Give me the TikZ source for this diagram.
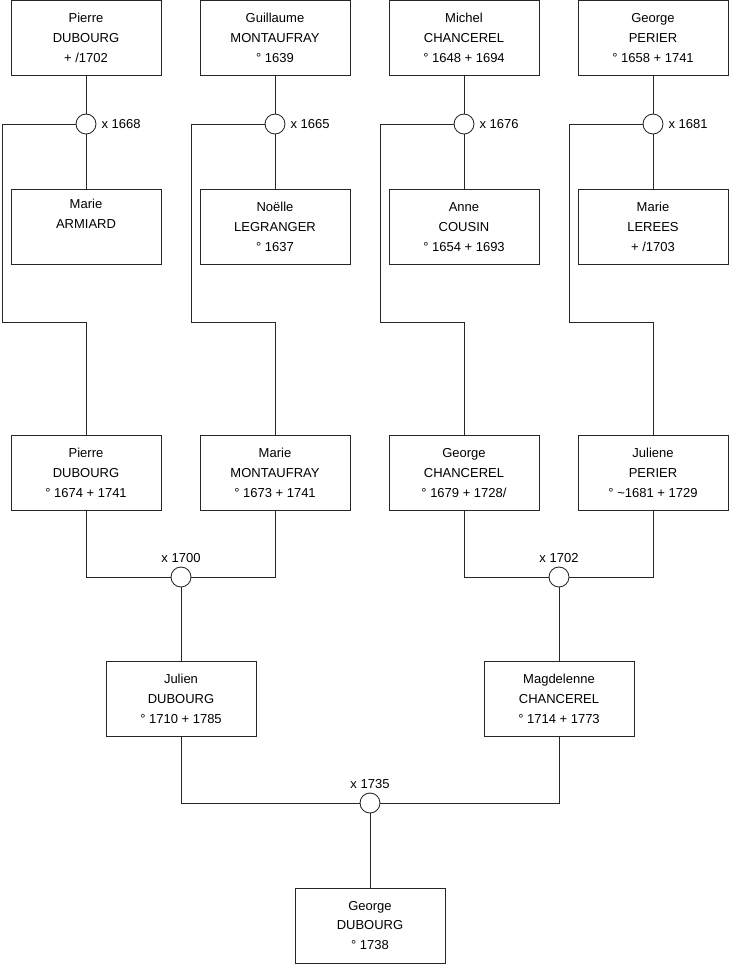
\documentclass[tikz,border=0pt]{standalone}
\usepackage{fontspec}
\setmainfont{Liberation Sans}
\usetikzlibrary{positioning}

\begin{document}
\begin{tikzpicture}[x=0.02cm, y=-0.02cm,
        person/.style={draw=black!85, line width=0.5pt, minimum width=3cm, minimum height=1.5cm,
                       align=center, inner sep=0pt, font=\fontsize{7.4}{11.3}\selectfont},
        wed/.style={draw=black!85, circle, line width=0.5pt, minimum size=0.4cm, inner sep=0pt, fill=white},
        year/.style={font=\fontsize{7.4}{9}\selectfont, inner sep=1pt},
        link/.style={draw=black!85, line width=0.5pt}
      ]
        \useasboundingbox (0,0) rectangle (740,975);
        % great-grandparents
        \node[person] (PD)  at (86,38)  {Pierre\\DUBOURG\\+ /1702};
        \node[person] (GM)  at (275,38) {Guillaume\\MONTAUFRAY\\° 1639};
        \node[person] (MC)  at (464,38) {Michel\\CHANCEREL\\° 1648 + 1694};
        \node[person] (GP)  at (653,38) {George\\PERIER\\° 1658 + 1741};
        \node[person] (MA)  at (86,227)   {Marie\\ARMIARD\\\strut};
        \node[person] (NL)  at (275,227)  {Noëlle\\LEGRANGER\\° 1637};
        \node[person] (AC)  at (464,227)  {Anne\\COUSIN\\° 1654 + 1693};
        \node[person] (ML)  at (653,227)  {Marie\\LEREES\\+ /1703};
        % grandparents
        \node[person] (PD2) at (86,473)   {Pierre\\DUBOURG\\° 1674 + 1741};
        \node[person] (MM)  at (275,473)  {Marie\\MONTAUFRAY\\° 1673 + 1741};
        \node[person] (GC)  at (464,473)  {George\\CHANCEREL\\° 1679 + 1728/};
        \node[person] (JP)  at (653,473)  {Juliene\\PERIER\\° \textasciitilde1681 + 1729};
        % parents and child
        \node[person] (JD)  at (181,699)  {Julien\\DUBOURG\\° 1710 + 1785};
        \node[person] (MCh) at (559,699)  {Magdelenne\\CHANCEREL\\° 1714 + 1773};
        \node[person] (GD)  at (370,925.5) {George\\DUBOURG\\° 1738};

        % marriages
        \node[wed] (w1) at (86,124)  {};
        \node[wed] (w2) at (275,124) {};
        \node[wed] (w3) at (464,124) {};
        \node[wed] (w4) at (653,124) {};
        \node[wed] (w5) at (181,577) {};
        \node[wed] (w6) at (559,577) {};
        \node[wed] (w7) at (370,803) {};
        \node[year, right=0.06cm of w1] {x 1668};
        \node[year, right=0.06cm of w2] {x 1665};
        \node[year, right=0.06cm of w3] {x 1676};
        \node[year, right=0.06cm of w4] {x 1681};
        \node[year, above=0.04cm of w5] {x 1700};
        \node[year, above=0.04cm of w6] {x 1702};
        \node[year, above=0.04cm of w7] {x 1735};

        \coordinate (k1) at (2,322);
        \coordinate (k2) at (191,322);
        \coordinate (k3) at (380,322);
        \coordinate (k4) at (569,322);

        \draw[link] (PD) -- (w1) -- (MA);
        \draw[link] (GM) -- (w2) -- (NL);
        \draw[link] (MC) -- (w3) -- (AC);
        \draw[link] (GP) -- (w4) -- (ML);
        \draw[link] (w1.west) -| (k1) -| (PD2.north);
        \draw[link] (w2.west) -| (k2) -| (MM.north);
        \draw[link] (w3.west) -| (k3) -| (GC.north);
        \draw[link] (w4.west) -| (k4) -| (JP.north);
        \draw[link] (PD2.south) |- (w5.west);
        \draw[link] (MM.south) |- (w5.east);
        \draw[link] (GC.south) |- (w6.west);
        \draw[link] (JP.south) |- (w6.east);
        \draw[link] (w5) -- (JD);
        \draw[link] (w6) -- (MCh);
        \draw[link] (JD.south) |- (w7.west);
        \draw[link] (MCh.south) |- (w7.east);
        \draw[link] (w7) -- (GD);
      \end{tikzpicture}
\end{document}
